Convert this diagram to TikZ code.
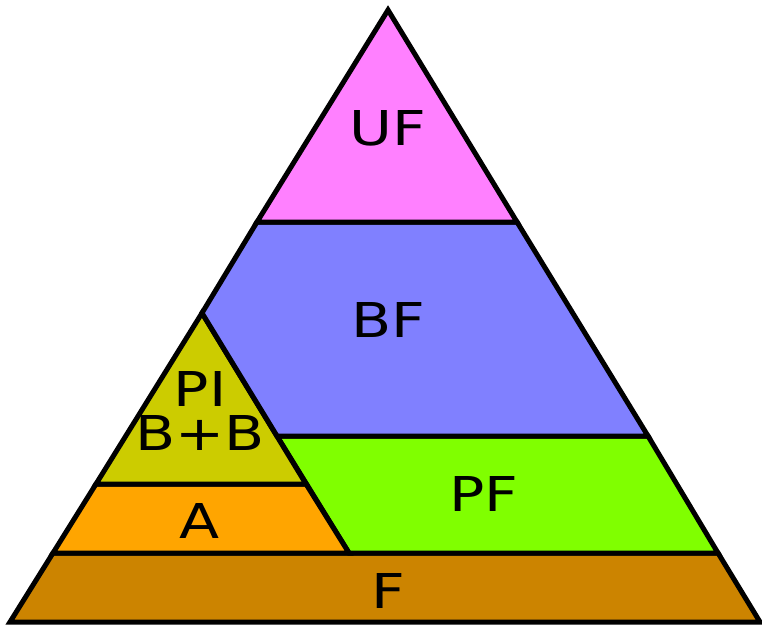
\documentclass[tikz,border=0pt]{standalone}
\usepackage{fontspec}
\setmainfont{DejaVu Sans}[FakeStretch=1.22]
\usetikzlibrary{calc}
\tikzset{
  layer/.style={draw=black, line width=5pt, line join=miter},
  lbl/.style={font=\fontsize{48}{46}\selectfont, inner sep=0pt, align=center}
}
\definecolor{ufpink}{RGB}{255,128,255}
\definecolor{bfblue}{RGB}{128,128,255}
\definecolor{piolive}{RGB}{204,204,0}
\definecolor{aorange}{RGB}{255,165,0}
\definecolor{pfgreen}{RGB}{128,255,0}
\definecolor{fbrown}{RGB}{204,132,0}

\begin{document}
\begin{tikzpicture}[x=1pt, y=-1pt]
		%%%%% START %%%%%
		\useasboundingbox (0, 0) rectangle (762, 626);
		
		\coordinate (top) at (388, 10);
		\coordinate (ufl) at (257, 222);
		\coordinate (ufr) at (517, 222);
		\coordinate (pitop) at (202, 313);
		\coordinate (bfl) at (277, 436);
		\coordinate (bfr) at (648, 436);
		\coordinate (al) at (96, 484);
		\coordinate (ar) at (306, 484);
		\coordinate (fl) at (53, 553);
		\coordinate (pfb) at (349, 553);
		\coordinate (fr) at (718, 553);
		\coordinate (bl) at (10, 622);
		\coordinate (br) at (760, 622);
		
		\draw[layer, fill=fbrown] (fl) -- (fr) -- (br) -- (bl) -- cycle;
		\draw[layer, fill=pfgreen] (bfl) -- (bfr) -- (fr) -- (pfb) -- cycle;
		\draw[layer, fill=aorange] (al) -- (ar) -- (pfb) -- (fl) -- cycle;
		\draw[layer, fill=piolive] (pitop) -- (al) -- (ar) -- cycle;
		\draw[layer, fill=bfblue] (ufl) -- (ufr) -- (bfr) -- (bfl) -- (pitop) -- cycle;
		\draw[layer, fill=ufpink] (top) -- (ufl) -- (ufr) -- cycle;
		
		\node[lbl] (uf) at (388, 128) {UF};
		\node[lbl] (bf) at (388, 320) {BF};
		\node[lbl] (pi) at (200, 389) {PI};
		\node[lbl] (bb) at (200, 433) {B+B};
		\node[lbl] (pf) at (484, 494) {PF};
		\node[lbl] (a) at (200, 521) {A};
		\node[lbl] (f) at (388, 591) {F};
		
		%%%%% END %%%%%
\end{tikzpicture}
\end{document}
